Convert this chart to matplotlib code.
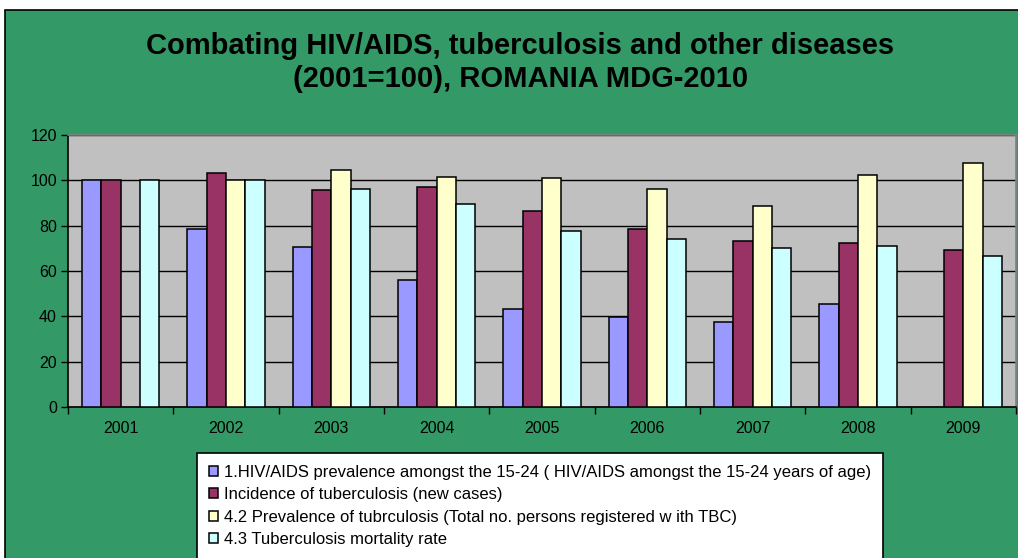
import numpy as np
import matplotlib.pyplot as plt
from matplotlib.patches import Rectangle

plt.rcParams['font.family'] = ['Liberation Sans', 'DejaVu Sans']

years = ["2001", "2002", "2003", "2004", "2005", "2006", "2007", "2008", "2009"]
hiv_prev = [100, 78.6, 70.4, 56.0, 43.2, 39.8, 37.3, 45.4, np.nan]
tb_incidence = [100, 103.1, 95.6, 96.9, 86.3, 78.6, 73.3, 72.2, 69.4]
tb_prevalence = [np.nan, 100, 104.4, 101.3, 100.9, 96.2, 88.7, 102.5, 107.8]
tb_mortality = [100, 100, 96.2, 89.7, 77.5, 73.9, 70.0, 71.1, 66.4]

labels = [
    "1.HIV/AIDS prevalence amongst the 15-24 ( HIV/AIDS amongst the 15-24 years of age)",
    "Incidence of tuberculosis (new cases)",
    "4.2 Prevalence of tubrculosis (Total no. persons registered w ith TBC)",
    "4.3 Tuberculosis mortality rate",
]
colors = ["#9999FF", "#993366", "#FFFFCC", "#CCFFFF"]
series = [hiv_prev, tb_incidence, tb_prevalence, tb_mortality]

W, H = 1018, 558
fig = plt.figure(figsize=(W / 100, H / 100), dpi=100)
fig.patch.set_facecolor("white")
fig.patches.append(Rectangle((5 / W, -0.01), 1.0, 1.01 - 10 / H, transform=fig.transFigure,
                             facecolor="#339966", edgecolor="black", linewidth=1.2, zorder=-10))

ax = fig.add_axes([68 / W, 1 - 407 / H, (1016 - 68) / W, (407 - 135) / H])
ax.set_facecolor("#C0C0C0")

x = np.arange(len(years))
bw = 0.183
for i, (vals, c, lab) in enumerate(zip(series, colors, labels)):
    ax.bar(x + (i - 1.5) * bw, vals, bw, color=c, edgecolor="black", linewidth=1.1,
           label=lab, zorder=3)

ax.set_xlim(-0.5, len(years) - 0.5)
ax.set_ylim(0, 120)
ax.set_yticks(range(0, 121, 20))
ax.yaxis.grid(True, color="black", linewidth=1.0, zorder=1)
ax.set_axisbelow(True)

ax.set_xticks(np.arange(-0.5, len(years), 1.0))
ax.set_xticklabels([])
ax.set_xticks(x, minor=True)
ax.set_xticklabels(years, minor=True)
ax.tick_params(axis="x", which="major", length=5, width=1, color="black", direction="out")
ax.tick_params(axis="x", which="minor", length=0, pad=10, labelsize=11.5)
ax.tick_params(axis="y", length=5, width=1, direction="out", labelsize=11.5, pad=3)

for s in ["left", "bottom"]:
    ax.spines[s].set_color("black")
    ax.spines[s].set_linewidth(1.2)
for s in ["top", "right"]:
    ax.spines[s].set_color("#808080")
    ax.spines[s].set_linewidth(1.2)

fig.text(0.511, 1 - 46 / H, "Combating HIV/AIDS, tuberculosis and other diseases",
         ha="center", va="center", fontsize=21, fontweight="bold")
fig.text(0.511, 1 - 79 / H, "(2001=100), ROMANIA MDG-2010",
         ha="center", va="center", fontsize=21, fontweight="bold")

leg = fig.legend(loc="upper left", bbox_to_anchor=(197 / W, 1 - 453 / H),
                 bbox_transform=fig.transFigure, borderaxespad=0, fontsize=12,
                 handlelength=0.55, handleheight=0.55, handletextpad=0.4,
                 labelspacing=0.45, borderpad=0.7, fancybox=False, framealpha=1,
                 edgecolor="black")
leg.get_frame().set_linewidth(1.2)

fig.savefig("out.png", dpi=100)
